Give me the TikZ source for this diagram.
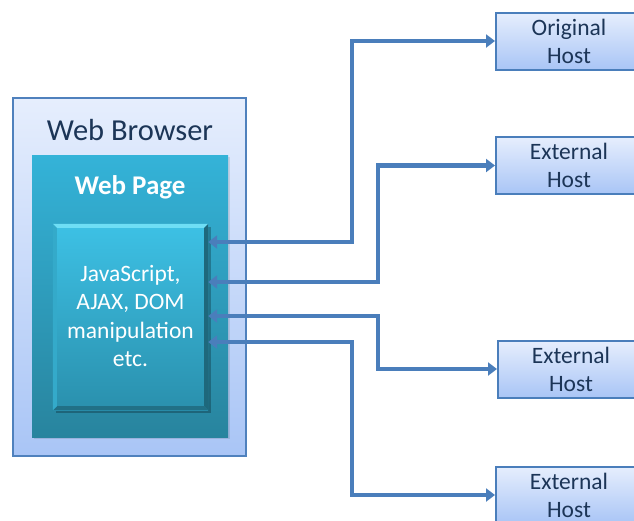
\documentclass[tikz,border=0pt]{standalone}
\usepackage{fontspec}
\setmainfont{Carlito}
\usetikzlibrary{arrows.meta}

\definecolor{frameblue}{HTML}{4F81BD}
\definecolor{linkblue}{HTML}{4A7EBB}
\definecolor{paletop}{HTML}{E6EEFD}
\definecolor{palebot}{HTML}{A9C5F6}
\definecolor{tealtop}{HTML}{34B3D8}
\definecolor{tealbot}{HTML}{28849E}
\definecolor{coretop}{HTML}{3DC1E5}
\definecolor{corebot}{HTML}{2A90AD}
\definecolor{navytext}{HTML}{1C3557}

\tikzset{
  browserbox/.style={draw=frameblue, line width=1.5pt, top color=paletop, bottom color=palebot,
    minimum width=233pt, minimum height=358pt, inner sep=0pt},
  pagebox/.style={draw=none, top color=tealtop, bottom color=tealbot,
    minimum width=196pt, minimum height=282pt, inner sep=0pt},
  corebox/.style={draw=none, top color=coretop, bottom color=corebot,
    minimum width=155pt, minimum height=186pt, inner sep=0pt},
  hostbox/.style={draw=linkblue, line width=2pt, top color=paletop, bottom color=palebot,
    minimum width=146pt, minimum height=57pt, inner sep=0pt},
  hosttext/.style={text=navytext, font=\fontsize{23.5}{28}\selectfont, align=center},
  link/.style={draw=linkblue, line width=4.2pt,
    {Triangle[length=9pt,width=13pt]}-{Triangle[length=9pt,width=13pt]}},
}

\begin{document}
\begin{tikzpicture}[x=1pt,y=-1pt]
\useasboundingbox (0,0) rectangle (634,520);
\clip (0,0) rectangle (634,520);

% browser frame and page
\node[browserbox] (browser) at (129.5,277) {};
\node[text=navytext, font=\fontsize{30.5}{32}\selectfont] (browsertitle) at (130,130) {Web Browser};
\fill[black, opacity=0.10] (34,157) rectangle (230,439);
\node[pagebox] (page) at (130,296) {};
\node[text=white, font=\fontsize{27}{30}\selectfont\bfseries] (pagetitle) at (130,187) {Web Page};

% script block with bevelled edges
\fill[black, opacity=0.25] (56,227) rectangle (211,413);
\node[corebox] (core) at (130.5,317) {};
\fill[color={rgb,255:red,110;green,222;blue,245}] (core.north west) -- (core.north east) -- ++(-4,4) -- ([shift={(4,4)}]core.north west) -- cycle;
\fill[color={rgb,255:red,30;green,104;blue,124}] (core.north east) -- (core.south east) -- ++(-4,-4) -- ([shift={(-4,4)}]core.north east) -- cycle;
\fill[color={rgb,255:red,33;green,112;blue,134}] (core.south west) -- (core.south east) -- ++(-4,-4) -- ([shift={(4,-4)}]core.south west) -- cycle;
\fill[color={rgb,255:red,52;green,170;blue,202}] (core.north west) -- (core.south west) -- ++(4,-4) -- ([shift={(4,4)}]core.north west) -- cycle;
\node[text=white, font=\fontsize{23.5}{28.5}\selectfont, align=center] (coretext) at (130.5,316)
  {JavaScript,\\AJAX, DOM\\manipulation\\etc.};

% remote hosts
\node[hostbox] (orig) at (569,41) {};
\node[hosttext] at (orig.center) {Original\\Host};
\node[hostbox] (ext1) at (569,165.5) {};
\node[hosttext] at (ext1.center) {External\\Host};
\node[hostbox] (ext2) at (571,369) {};
\node[hosttext] at (ext2.center) {External\\Host};
\node[hostbox] (ext3) at (569,495) {};
\node[hosttext] at (ext3.center) {External\\Host};

% requests between the script block and the hosts
\draw[link] (core.east |- 0,242) -| (352,41) -- (orig.west);
\draw[link] (core.east |- 0,282) -| (378,165.5) -- (ext1.west);
\draw[link] (core.east |- 0,316) -| (378,369) -- (ext2.west);
\draw[link] (core.east |- 0,342) -| (352,495) -- (ext3.west);
\end{tikzpicture}
\end{document}
